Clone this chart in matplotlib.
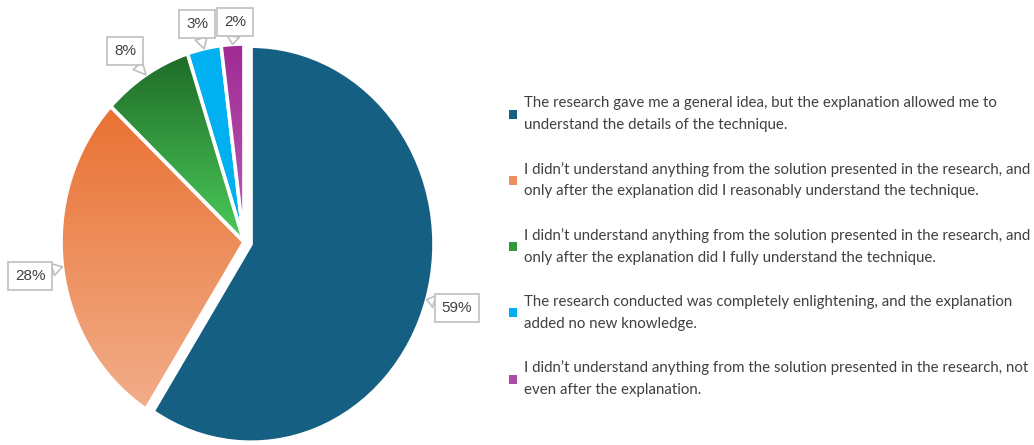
import numpy as np
import matplotlib.pyplot as plt
from matplotlib.patches import Patch
from matplotlib.colors import LinearSegmentedColormap

# survey answers, share of respondents (%)
answers = [
    "The research gave me a general idea, but the explanation allowed me to\nunderstand the details of the technique.",
    "I didn\u2019t understand anything from the solution presented in the research, and\nonly after the explanation did I reasonably understand the technique.",
    "I didn\u2019t understand anything from the solution presented in the research, and\nonly after the explanation did I fully understand the technique.",
    "The research conducted was completely enlightening, and the explanation\nadded no new knowledge.",
    "I didn\u2019t understand anything from the solution presented in the research, not\neven after the explanation.",
]
shares = [59, 28, 8, 3, 2]

# top / bottom colour of each slice fill
top_colors = ["#156082", "#E97132", "#1E6B27", "#00B0F0", "#A02B93"]
bottom_colors = ["#156082", "#F2AE8A", "#4CCB5B", "#00B0F0", "#BB5CB3"]
legend_colors = ["#156082", "#EE9060", "#2E9A3A", "#00B0F0", "#B04CA5"]

# label box centres in pixels (x from left, y from top)
label_px = [(457, 308), (30, 276), (125, 51), (197, 24), (235, 22)]

W, H = 1034, 445
cx, cy, rx, ry = 244, 242, 183, 198   # pie centre and radii in pixels
lim = 1.25

fig = plt.figure(figsize=(W / 100, H / 100), dpi=100)
ax = fig.add_axes([(cx - lim * rx) / W, (H - cy - lim * ry) / H,
                   2 * lim * rx / W, 2 * lim * ry / H])

explode = [0.04, 0, 0, 0, 0]
wedges, _ = ax.pie(shares, startangle=90, counterclock=False, explode=explode,
                   colors=top_colors,
                   wedgeprops=dict(edgecolor="white", linewidth=2.6))

# vertical gradient inside each wedge
for w, c0, c1 in zip(wedges, top_colors, bottom_colors):
    if c0 == c1:
        continue
    ext = w.get_path().get_extents()
    cmap = LinearSegmentedColormap.from_list("g", [c0, c1])
    grad = np.linspace(0, 1, 256).reshape(-1, 1)
    im = ax.imshow(grad, cmap=cmap, aspect="auto", origin="upper",
                   extent=[ext.x0, ext.x1, ext.y0, ext.y1], zorder=1.5,
                   interpolation="bilinear")
    im.set_clip_path(w)
    w.set_facecolor("none")
    w.set_zorder(2)

ax.set_aspect("auto")
ax.set_xlim(-lim, lim)
ax.set_ylim(-lim, lim)
ax.axis("off")

# percentage callouts
start = 90.0
for w, v, ex, (px, py) in zip(wedges, shares, explode, label_px):
    mid = np.deg2rad(start - v * 3.6 / 2)
    start -= v * 3.6
    tip = ((1 + ex) * np.cos(mid), (1 + ex) * np.sin(mid))
    txt = ((px - cx) / rx, (cy - py) / ry)
    ax.annotate(f"{v}%", xy=tip, xytext=txt, ha="center", va="center",
                fontsize=11, family="Liberation Sans", color="#404040",
                bbox=dict(boxstyle="square,pad=0.45", fc="white", ec="#BFBFBF", lw=1.2),
                arrowprops=dict(arrowstyle="wedge,tail_width=0.8", fc="white",
                                ec="#BFBFBF", lw=1.2, shrinkA=0, shrinkB=0),
                zorder=5)

handles = [Patch(facecolor=c) for c in legend_colors]
leg = fig.legend(handles, answers, loc="upper left", bbox_to_anchor=(503 / W, 1 - 90 / H),
                 frameon=False, handlelength=0.55, handleheight=0.55,
                 handletextpad=0.45, labelspacing=2.0, borderaxespad=0,
                 prop=dict(family="Lato", size=10.8))
for t in leg.get_texts():
    t.set_color("#404040")
    t.set_linespacing(1.7)

fig.savefig("out.png", dpi=100, facecolor="white")
